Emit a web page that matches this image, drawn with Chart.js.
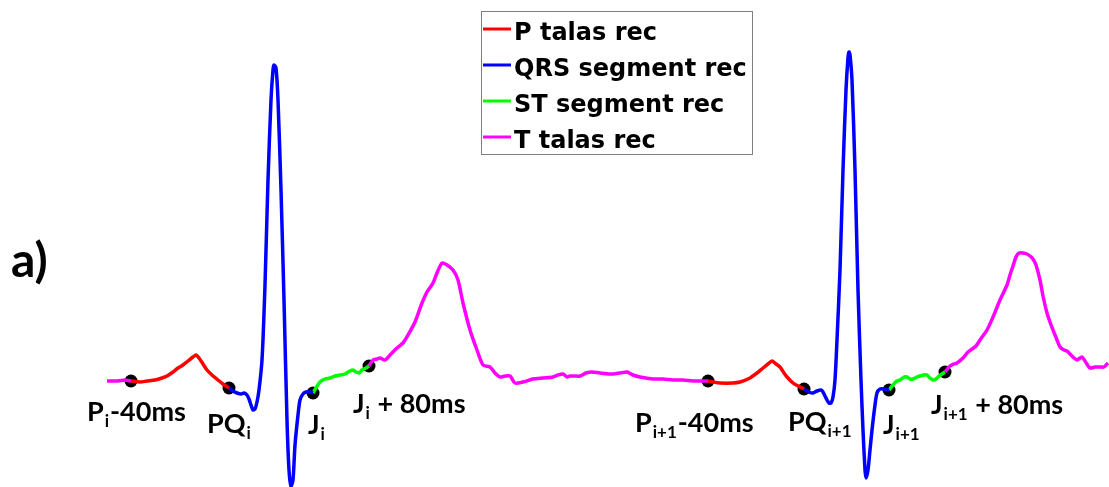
<!DOCTYPE html>
<html>
<head>
<meta charset="utf-8">
<script src="https://cdn.jsdelivr.net/npm/chart.js@4.4.1/dist/chart.umd.min.js"></script>
<style>
html,body{margin:0;padding:0;background:#fff;overflow:hidden;}
#wrap{position:relative;width:1109px;height:487px;}
</style>
</head>
<body>
<div id="wrap"><canvas id="c"></canvas></div>
<script>
// ---- data (time units, amplitude units) ----
const tPre = [107,118,125,131];
const aPre = [0,0,1,0];

const tP1 = [131,140,147,155,162,167,173,178,183,188,193,196,199,203,207,212,218,223,229];
const aP1 = [0,-1,0,1,3,5,9,13,16,20,24,26,23,17,11,6,1,-3,-7];
const tP2 = [708,713,720,733,740,750,757,763,768,772,776,780,784,787,793,798,804];
const aP2 = [0,-1,-2,-2,-1,3,8,13,17,20,17,14,8,4,-2,-5,-8];

const tQRS1 = [229,233,237,241,244,247,249,251,253,255,257,259,262,265,268,271,273,274,276,278,281,284,287,289,291,293,295,298,300,303,306,310,313];
const aQRS1 = [-7,-10,-12,-13,-12,-14,-18,-24,-29,-28,-21,-9,21,96,201,281,311,316,313,281,191,81,-39,-89,-105,-99,-64,-34,-19,-13,-11,-11,-12];
const tQRS2 = [804,809,813,817,821,823,825,827,829,831,833,835,837,840,843,846,848,849,850,852,855,858,861,863,865,866,868,870,872,875,877,880,884,889];
const aQRS2 = [-8,-11,-12,-10,-9,-11,-15,-19,-22,-22,-16,1,41,111,211,291,323,329,326,301,211,91,1,-49,-89,-97,-89,-69,-49,-24,-12,-8,-8,-9];

const tST1 = [313,316,320,325,330,335,340,345,350,353,356,359,362,366,369];
const aST1 = [-12,-7,-1,2,3,5,6,7,10,11,9,8,11,13,15];
const tST2 = [889,893,897,900,904,907,910,913,917,920,924,927,930,933,936,938,942,945];
const aST2 = [-9,-4,0,1,4,4,2,2,4,5,6,6,3,1,2,4,7,9];

const tT1 = [369,373,377,380,385,390,397,403,408,415,422,427,433,437,442,447,453,458,463,470,477,483,490,495,500,505,510,515,523,533,543,553,558,563,567,570,575,580,586,592,600,613,620,627,633,640,653,663,673,683,693,700,708];
const aT1 = [15,21,22,23,21,26,33,38,46,59,78,89,98,108,118,116,111,101,78,51,31,16,14,8,4,5,5,-2,-1,2,3,4,6,7,4,5,5,5,8,9,8,7,8,9,6,4,2,2,1,1,0,0,0];
const tT2 = [945,950,954,957,963,968,972,976,980,987,993,1000,1007,1010,1013,1016,1019,1023,1027,1030,1033,1036,1040,1043,1047,1050,1053,1057,1060,1064,1067,1070,1074,1077,1082,1085,1090,1095,1100,1104,1108];
const aT2 = [9,15,17,18,23,29,32,35,41,51,64,81,96,106,115,124,128,128,127,125,122,116,101,85,68,59,51,41,34,31,30,27,23,21,24,20,13,14,14,14,18];

const markerT = [131,229,313,369,708,804,889,945];
const markerA = [0,-7,-12,15,0,-8,-9,9];
const markerMain = ['P','PQ','J','J','P','PQ','J','J'];
const markerSub  = ['i','i','i','i','i+1','i+1','i+1','i+1'];
const markerTail = ['-40ms','','',' + 80ms','-40ms','','',' + 80ms'];

const seriesNames = ['P talas rec','QRS segment rec','ST segment rec','T talas rec'];
const panelLabel = 'a)';

// ---- build helpers ----
function pts(){ // concatenate segments with a null gap between them
  const out = [];
  for (let s = 0; s < arguments.length; s += 2){
    const t = arguments[s], a = arguments[s+1];
    if (out.length) out.push({x: (out[out.length-1].x + t[0]) / 2, y: null});
    for (let i = 0; i < t.length; i++) out.push({x: t[i], y: a[i]});
  }
  return out;
}

const colors = ['#ff0000','#0000ff','#00ff00','#ff00ff'];
const lineDs = (label, data, color) => ({
  type: 'line', label, data, borderColor: color, backgroundColor: color,
  borderWidth: 3.5, pointRadius: 0, tension: 0.25, spanGaps: false, fill: false, clip: false
});

const datasets = [
  lineDs(seriesNames[0], pts(tP1, aP1, tP2, aP2), colors[0]),
  lineDs(seriesNames[1], pts(tQRS1, aQRS1, tQRS2, aQRS2), colors[1]),
  lineDs(seriesNames[2], pts(tST1, aST1, tST2, aST2), colors[2]),
  lineDs(seriesNames[3], pts(tPre, aPre, tT1, aT1, tT2, aT2), colors[3]),
  { type: 'scatter', label: 'markers', data: markerT.map((t,i)=>({x:t, y:markerA[i]})),
    pointRadius: 6.5, pointBorderWidth: 0, pointBackgroundColor: '#000', pointBorderColor: '#000', showLine: false, clip: false }
];

// label offsets (pixels from marker to text left / baseline)
const labelOff = [[-44,40],[-22,45],[-5,41],[-16,47],[-73,51],[-16,42],[-6,44],[-14,42]];

const annot = {
  id: 'annot',
  afterDatasetsDraw(chart){
    const ctx = chart.ctx, xs = chart.scales.x, ys = chart.scales.y;
    ctx.save();
    ctx.fillStyle = '#000';
    ctx.textBaseline = 'alphabetic';
    ctx.textAlign = 'left';
    const mainFont = 'bold 27px Lato', subFont = 'bold 17px Lato';
    markerT.forEach((t,i)=>{
      let x = xs.getPixelForValue(t) + labelOff[i][0];
      const y = ys.getPixelForValue(markerA[i]) + labelOff[i][1];
      ctx.font = mainFont; ctx.fillText(markerMain[i], x, y); x += ctx.measureText(markerMain[i]).width + 1;
      ctx.font = subFont; ctx.fillText(markerSub[i], x, y + 6); x += ctx.measureText(markerSub[i]).width + 1;
      ctx.font = mainFont; ctx.fillText(markerTail[i], x, y);
    });
    // panel label
    ctx.font = 'bold 48px Lato';
    ctx.fillText(panelLabel, 11, 277);
    // legend box
    const bx = 481, by = 11, bw = 271, bh = 143;
    ctx.fillStyle = '#fff';
    ctx.fillRect(bx, by, bw, bh);
    ctx.strokeStyle = '#7f7f7f'; ctx.lineWidth = 1;
    ctx.strokeRect(bx + 0.5, by + 0.5, bw, bh);
    ctx.font = 'bold 24px "DejaVu Sans"';
    for (let k = 0; k < 4; k++){
      const ds = chart.data.datasets[k];
      const cy = 29 + k * 36;
      ctx.strokeStyle = ds.borderColor; ctx.lineWidth = 3;
      ctx.beginPath(); ctx.moveTo(483, cy); ctx.lineTo(511, cy); ctx.stroke();
      ctx.fillStyle = '#000';
      ctx.fillText(ds.label, 514, cy + 11);
    }
    ctx.restore();
  }
};

new Chart(document.getElementById('c'), {
  type: 'line',
  data: { datasets },
  options: {
    responsive: true, maintainAspectRatio: false, animation: false,
    layout: { padding: 0, autoPadding: false },
    plugins: { legend: { display: false }, tooltip: { enabled: false } },
    scales: {
      x: { type: 'linear', min: 0, max: 1109, display: false },
      y: { type: 'linear', min: -106, max: 381, display: false }
    }
  },
  plugins: [annot]
});
</script>
</body>
</html>
